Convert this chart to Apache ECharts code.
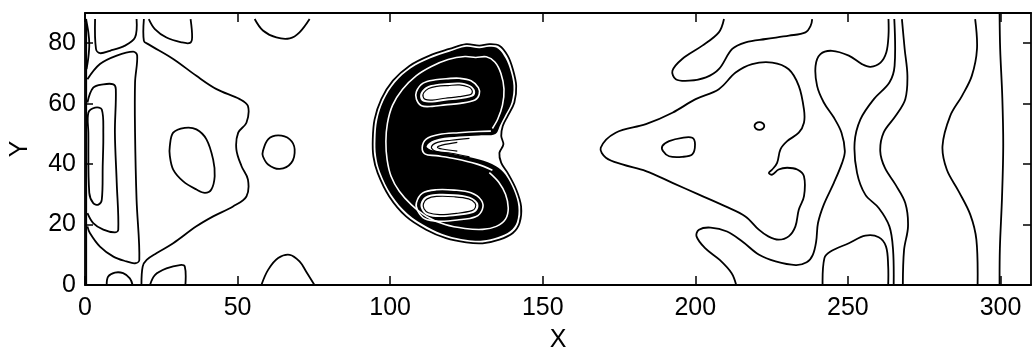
<!DOCTYPE html>
<html>
<head>
<meta charset="utf-8">
<script src="https://cdn.jsdelivr.net/npm/echarts@6/dist/echarts.min.js"></script>
<style>
  html, body { margin: 0; padding: 0; background: #fff; }
  #chart { width: 1032px; height: 351px; }
</style>
</head>
<body>
<div id="chart"></div>
<script>
// Axis ticks
const xTicks = [0, 50, 100, 150, 200, 250, 300];
const yTicks = [0, 20, 40, 60, 80];

// ---- contour lines, [x, y] in data units ----
// left end of the channel
const leftEdge = [[0.4, 0], [0.4, 88]];
const leftWisp = [[0.3, 88], [1.1, 83.6], [1.4, 79.7], [1.1, 75.3], [0.5, 71.4]];
const leftRingOuter = [[0.8, 68.1], [4.9, 73.1], [10.4, 75.9], [15.8, 77.2], [17.1, 75.9], [16.4, 67], [16.4, 50.4], [16.9, 28.2], [17.8, 8.3], [16.4, 7.2], [13.6, 7.8], [9.3, 9.4], [4.9, 12.7], [1.6, 17.2], [0.8, 19.4]];
const leftRingMid = [[0.8, 60.4], [2.7, 65.3], [6, 66.4], [9.3, 66.4], [10.1, 64.8], [9.8, 50.4], [10.4, 33.8], [10.9, 18.3], [9.8, 17.4], [6, 18.3], [2.7, 20.5], [0.8, 23.8]];
const leftRingInner = [[1.1, 57], [3.3, 58.7], [5.5, 58.1], [6, 50.4], [5.8, 39.3], [5.5, 28.2], [4.4, 26.6], [2.7, 27.1], [1.4, 30.5], [1.1, 50.4]];
const topLobeA = [[3.3, 88], [3.6, 78.1], [4.9, 76.7], [8.2, 77.5], [13.1, 79.2], [16.4, 81.9], [16.9, 88]];
const topLobeB = [[20.9, 88], [22.9, 84.7], [26.7, 81.9], [31.6, 80.3], [34.4, 80.1], [35.1, 81.9], [34.6, 88]];
const bottomLobeA = [[7.1, 0], [7.6, 2.8], [9.8, 4.1], [12.5, 3.9], [14.7, 2.2], [15.6, 0]];
const bottomLobeB = [[21.3, 0], [22.9, 3.3], [26.7, 5.5], [31.1, 6.6], [32.7, 6.1], [32.9, 0]];
const triangleLeft = [[19.3, 88], [19.3, 80.8], [20.7, 79.7], [28.9, 74.8], [36.5, 69.2], [43.1, 64.8], [50.7, 61.5], [53.4, 59.2], [52.9, 53.7], [50.2, 50.4], [49.6, 44.9], [51.3, 39.3], [53.4, 34.9], [52.9, 29.3], [48.5, 26], [42, 22.7], [36.5, 19.4], [28.9, 13.8], [23.4, 10.5], [20.2, 8.3], [18.9, 6.1], [18.5, 0]];
const ovalLeft = [[27.8, 46], [28.9, 50.4], [32.7, 52], [36.5, 51.5], [39.8, 48.2], [42, 41.5], [42.5, 36], [41.4, 31.6], [39.3, 30.5], [36.5, 31.6], [32.2, 34.3], [28.9, 38.2], [27.8, 42.7]];
const topLobeC = [[55.6, 88], [58.3, 84.2], [62.7, 81.9], [67.1, 81.6], [70.3, 83.6], [73.6, 88]];
const circleMid = [[58.3, 44.3], [60, 48.2], [63.3, 49.5], [67.1, 48.2], [68.7, 44.9], [67.6, 40.4], [63.8, 38.4], [60, 39.9], [58.3, 42.6]];
const bottomLobeC = [[57.8, 0], [60, 5], [63.3, 8.9], [67.1, 10], [70.3, 7.8], [72.5, 4.4], [75.2, 0]];

// the dense blob
const blobOuter = [[94.3, 48.2], [94.9, 54.8], [97.1, 61.5], [100.9, 67.6], [106.3, 72.5], [112.9, 75.9], [119.4, 78.1], [124.9, 79.7], [129.2, 79.2], [132.5, 79.7], [135.8, 79.2], [138.5, 75.9], [140.2, 71.4], [141.3, 65.9], [140.7, 60.4], [138.5, 55.9], [136.9, 52.6], [136.4, 49.3], [137.1, 46.5], [135.8, 43.7], [136.4, 40.4], [138.5, 37.1], [141.3, 31.6], [142.9, 26], [142.4, 20.5], [140.2, 17.2], [135.8, 15], [130.3, 13.8], [124.9, 14.1], [118.3, 15.5], [111.8, 18.3], [105.2, 22.7], [99.7, 29.3], [95.9, 37.1], [94.5, 42.6]];
const blobBand = [[134.5, 50.0], [136.0, 52.8], [137.8, 56.3], [139.8, 60.5], [140.4, 65.9], [139.4, 71.0], [137.8, 75.0], [135.4, 78.2], [132.5, 78.8], [129.2, 78.3], [124.9, 78.8], [119.4, 77.2], [113.2, 75.0], [106.8, 71.7], [101.6, 67.0], [97.9, 61.1], [95.8, 54.7], [95.2, 48.2], [95.4, 42.7], [96.7, 37.4], [100.4, 29.9], [105.8, 23.5], [112.2, 19.2], [118.6, 16.4], [124.9, 15.0], [130.3, 14.7], [135.4, 15.9], [139.4, 17.9], [141.5, 20.8], [142.0, 26.0], [140.5, 31.4], [137.8, 36.5], [134.7, 39.3], [129.2, 41.5], [121.6, 43.2], [115.0, 44.3], [112.0, 45.6], [112.9, 47.1], [116.1, 48.4], [122.7, 49.1], [129.2, 49.5]];
const blobHoleUpper = [[110.1, 63.7], [112, 65.6], [115, 66.4], [119, 66.8], [122.7, 67.0], [126, 66.2], [127.6, 64.8], [127.8, 63.3], [127.0, 62.4], [122.7, 61.5], [118, 61.0], [113.8, 60.4], [111, 60.6], [109.9, 61.8]];
const blobHoleLower = [[110.0, 27.0], [111.5, 29.2], [115, 30.1], [121, 30.0], [126, 29.2], [128.6, 27.4], [128.8, 25.4], [127.2, 23.8], [122, 22.9], [116, 22.5], [112, 23.2], [110.3, 25.0]];
const blobHoleUpperIn = [[111, 63.6], [112.6, 65], [115.3, 65.7], [119, 66], [122.7, 66.2], [125.7, 65.5], [126.8, 64.5], [126.8, 63.4], [126, 62.9], [122.5, 62.3], [118, 61.8], [113.8, 61.2], [111.5, 61.4], [110.8, 62.3]];
const blobHoleLowerIn = [[110.9, 26.9], [112.1, 28.5], [115.2, 29.3], [121, 29.2], [125.7, 28.5], [127.8, 27.1], [127.9, 25.6], [126.8, 24.6], [121.8, 23.7], [116.2, 23.3], [112.5, 23.9], [111.1, 25.2]];
const blobWhiteBand = [[133.5, 51.8], [135.3, 55], [136.8, 59.5], [137.3, 64.8], [136.3, 70], [134.3, 73.8], [131.5, 75.5], [128, 75.3], [124.5, 75.6], [119, 74.6], [113.5, 72.3], [108.5, 69.2], [104, 64.7], [100.8, 59.5], [99.1, 53.5], [98.6, 47.5], [99.0, 41.5], [100.3, 36], [103, 31], [107, 26.5], [112, 22.6], [118, 20], [124.5, 18.7], [130.3, 18.4], [134.8, 19.4], [137.8, 21.8], [138.7, 25.5], [137.8, 30], [135.6, 34], [132.5, 37.2]];
const blobWhiteUpper = [[108.6, 64], [110.8, 66.8], [114.8, 67.9], [119, 68.3], [122.7, 68.4], [126.5, 67.6], [128.9, 65.3], [129.2, 63.1], [127.8, 61.2], [123, 60.1], [118, 59.6], [113.8, 59.1], [110.3, 59.3], [108.6, 61.5]];
const blobWhiteLower = [[108.6, 27.2], [110.6, 30.4], [115, 31.5], [121, 31.4], [126.5, 30.5], [129.9, 28], [130.2, 25], [128, 22.6], [122, 21.5], [116, 21.1], [111.4, 21.9], [109, 24.6]];
const blobWhiteNotch = [[133, 50.9], [129, 50.8], [122.5, 50.4], [116, 49.8], [111.8, 48.3], [110.5, 45.5], [111.5, 43.3], [115, 42.8], [121.3, 41.8], [128.5, 40], [133.5, 38]];
const blobNotchA = [[126, 48.5], [120, 47.9], [115.5, 47.2], [113.5, 45.6], [115, 44.2], [120, 43.6], [126, 42.4]];
const blobNotchB = [[122, 47.2], [117, 46.3], [115.5, 45.6], [117, 45], [122, 44.3]];

// right part of the channel
const triangleRight = [[169, 45.4], [173.9, 50.4], [183.8, 53.2], [192.5, 57], [200.1, 61.5], [207.7, 64.8], [213.2, 70.3], [218.6, 73.1], [225.2, 73.6], [230.6, 71.4], [233.9, 65.9], [235.6, 58.1], [235.6, 53.7], [233.9, 50.4], [230.1, 47.6], [227.9, 44.9], [226.8, 40.4], [225.2, 38.2], [224.1, 37.1], [225.2, 36.5], [227.3, 38.2], [230.1, 38.8], [233.4, 38.2], [235.6, 36], [235.6, 29.3], [233.9, 24.9], [232.8, 19.4], [230.6, 16.1], [227.3, 15], [223.9, 16.1], [220.8, 18.3], [216.4, 22.7], [209.9, 26], [201.2, 29.9], [192.5, 33.8], [183.8, 37.7], [176.1, 39.9], [170.7, 42.1]];
const ovalRight = [[189.2, 46], [191.4, 47.6], [195.7, 48.7], [199, 48.7], [199.9, 46.5], [199, 43.2], [195.7, 42.4], [191.4, 42.6], [189.4, 44.3]];
const dotRight = [[222.6, 52.6], [222.1, 53.5], [221, 53.9], [219.9, 53.5], [219.4, 52.6], [219.9, 51.7], [221, 51.3], [222.1, 51.7]];
const topLobeD = [[209.4, 88], [207.7, 83.6], [202.3, 79.2], [195.7, 74.8], [192.5, 70.9], [193.6, 68.1], [198, 67.6], [203.5, 68.7], [207.7, 71.4], [212.1, 78.1], [216.5, 80.3], [223.1, 81.4], [230.7, 82.5], [236.1, 83.6], [237.8, 85.8], [238.3, 88]];
const waveA = [[213.4, 0], [211.9, 3.9], [208, 8.3], [203.2, 12.2], [200.4, 16.1], [201.2, 18.3], [205, 19], [210.4, 17.7], [215.4, 14.4], [220.9, 10], [226.3, 7.8], [232.9, 6.6], [236.5, 7.5], [238.5, 10], [239.6, 14.4], [240.2, 20.5], [242.1, 26.6], [245.4, 33.8], [248.1, 40.4], [249, 44.3], [247.9, 50.4], [245.4, 55.4], [242.1, 60.4], [239.9, 65.9], [239.4, 72.5], [241, 76.4], [244.8, 77.5], [250.3, 75.9], [254.6, 73.1], [257.4, 72.2], [260.7, 73.6], [262.6, 77], [263.3, 82.5], [263.3, 88]];
const bottomLobeD = [[241.7, 0], [242.3, 8.9], [244.3, 11.1], [250.3, 13.8], [255.7, 16.3], [260.1, 15.8], [262.5, 12.7], [263.2, 6.1], [263.2, 0]];
const waveB = [[265.2, 88], [265.3, 72.5], [263.6, 67], [258.5, 61.5], [254.1, 54.8], [252.2, 47.1], [253, 37.1], [255.7, 29.9], [260.1, 25.5], [263.6, 19.4], [264.8, 11.6], [265, 0]];
const waveC = [[267.7, 88], [268.6, 78.1], [269.5, 69.2], [268.8, 61.5], [265.6, 55.9], [261.7, 50.4], [260.6, 44.3], [262.1, 38.8], [265.6, 33.2], [268.8, 27.1], [269.7, 19.4], [268.4, 11.6], [268, 0]];
const waveD = [[291.7, 88], [292.3, 78.1], [290.6, 69.2], [287.4, 62.6], [283.5, 55.9], [281, 46], [282.4, 38.2], [286.3, 31], [290.1, 23.3], [292.1, 15], [292.5, 0]];
const waveE = [[299.7, 90], [299.9, 78], [300.6, 62], [300.9, 46], [300.5, 29], [299.8, 12], [299.7, 0]];

// ---- grouping by drawing style ----
const blackOpen = [leftEdge, leftWisp, leftRingOuter, leftRingMid, topLobeA, topLobeB, bottomLobeA, bottomLobeB,
  triangleLeft, topLobeC, bottomLobeC, topLobeD, waveA, bottomLobeD, waveB, waveC, waveD, waveE];
const blackClosed = [leftRingInner, ovalLeft, circleMid, blobOuter, triangleRight, ovalRight, dotRight];
const bandFill = [blobBand];
const holeFill = [blobHoleUpper, blobHoleLower];
const whiteClosed = [blobWhiteUpper, blobWhiteLower];
const whiteOpen = [blobWhiteBand, blobWhiteNotch];
const innerBlack = [blobHoleUpperIn, blobHoleLowerIn];
const innerBlackOpen = [blobNotchA, blobNotchB];

const FONT = 'Liberation Sans, Arial, Helvetica, sans-serif';
const FS = 25;

function shapeSeries(list, opts) {
  return {
    type: 'custom',
    coordinateSystem: 'cartesian2d',
    xAxisIndex: 0,
    yAxisIndex: 0,
    silent: true,
    animation: false,
    clip: true,
    z: opts.z,
    data: list.map(c => c[0]),
    renderItem: function (params, api) {
      const pts = list[params.dataIndex].map(p => api.coord(p));
      return {
        type: opts.closed ? 'polygon' : 'polyline',
        shape: { points: pts, smooth: 0.35 },
        style: {
          fill: opts.fill || null,
          stroke: opts.stroke || null,
          lineWidth: opts.width || 0
        }
      };
    }
  };
}

const chart = echarts.init(document.getElementById('chart'), null, { renderer: 'canvas' });

const frameLine = { show: true, onZero: false, lineStyle: { color: '#000', width: 1.8 } };

chart.setOption({
  backgroundColor: '#fff',
  animation: false,
  grid: { left: 85, right: 1, top: 13, bottom: 66, containLabel: false, outerBoundsMode: 'none' },
  xAxis: [
    {
      type: 'value', position: 'bottom', min: 0, max: 310,
      axisLine: frameLine,
      axisTick: { inside: true, length: 9, customValues: xTicks, lineStyle: { color: '#000', width: 1.5 } },
      axisLabel: { customValues: xTicks, color: '#000', fontSize: FS, fontFamily: FONT, margin: 11 },
      splitLine: { show: false },
      name: 'X', nameLocation: 'middle', nameGap: 43,
      nameTextStyle: { color: '#000', fontSize: FS, fontFamily: FONT }
    },
    {
      type: 'value', position: 'top', min: 0, max: 310,
      axisLine: frameLine,
      axisTick: { inside: true, length: 9, customValues: xTicks, lineStyle: { color: '#000', width: 1.5 } },
      axisLabel: { show: false },
      splitLine: { show: false }
    }
  ],
  yAxis: [
    {
      type: 'value', position: 'left', min: 0, max: 90,
      axisLine: frameLine,
      axisTick: { inside: true, length: 8, customValues: yTicks, lineStyle: { color: '#000', width: 1.5 } },
      axisLabel: { customValues: yTicks, color: '#000', fontSize: FS, fontFamily: FONT, margin: 9 },
      splitLine: { show: false },
      name: 'Y', nameLocation: 'middle', nameGap: 52, nameRotate: 90,
      nameTextStyle: { color: '#000', fontSize: FS, fontFamily: FONT }
    },
    {
      type: 'value', position: 'right', min: 0, max: 90,
      axisLine: frameLine,
      axisTick: { inside: true, length: 8, customValues: yTicks, lineStyle: { color: '#000', width: 1.5 } },
      axisLabel: { show: false },
      splitLine: { show: false }
    }
  ],
  series: [
    shapeSeries(bandFill, { closed: true, fill: '#000', z: 2 }),
    shapeSeries(holeFill, { closed: true, fill: '#fff', z: 3 }),
    shapeSeries(whiteClosed, { closed: true, stroke: '#fff', width: 1.6, z: 4 }),
    shapeSeries(whiteOpen, { closed: false, stroke: '#fff', width: 1.6, z: 4 }),
    shapeSeries(innerBlack, { closed: true, stroke: '#000', width: 1.2, z: 5 }),
    shapeSeries(innerBlackOpen, { closed: false, stroke: '#000', width: 1.2, z: 5 }),
    shapeSeries(blackClosed, { closed: true, stroke: '#000', width: 1.8, z: 5 }),
    shapeSeries(blackOpen, { closed: false, stroke: '#000', width: 1.8, z: 5 })
  ]
});
</script>
</body>
</html>
